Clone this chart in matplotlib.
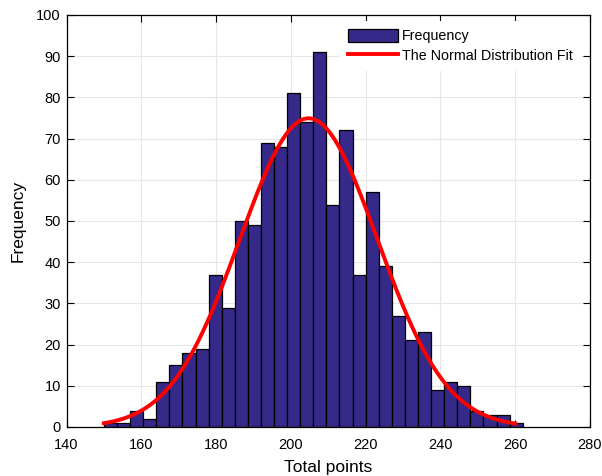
import numpy as np
import matplotlib.pyplot as plt
from matplotlib.patches import Patch
from matplotlib.lines import Line2D

# histogram of total points, 32 bins of width 3.5 from 150 to 262
bin_start = 150.0
bin_width = 3.5
counts = [1, 1, 4, 2, 11, 15, 18, 19, 37, 29, 50, 49, 69, 68, 81, 74,
          91, 54, 72, 37, 57, 39, 27, 21, 23, 9, 11, 10, 4, 3, 3, 1]
x_ticks = [140, 160, 180, 200, 220, 240, 260, 280]
y_ticks = [0, 10, 20, 30, 40, 50, 60, 70, 80, 90, 100]
fit_range = [150, 260]

plt.rcParams['font.family'] = ['Liberation Sans', 'DejaVu Sans']

counts = np.array(counts)
edges = bin_start + bin_width * np.arange(len(counts) + 1)
centers = (edges[:-1] + edges[1:]) / 2

# normal fit from the binned data
n = counts.sum()
mu = np.sum(counts * centers) / n
sigma = np.sqrt(np.sum(counts * (centers - mu) ** 2) / n)
xs = np.linspace(fit_range[0], fit_range[1], 300)
ys = n * bin_width * np.exp(-0.5 * ((xs - mu) / sigma) ** 2) / (sigma * np.sqrt(2 * np.pi))

fig = plt.figure(figsize=(6.02, 4.76), dpi=100)
ax = fig.add_axes([66.5 / 602, 1 - 427 / 476, 523.5 / 602, 412 / 476])

bar_color = '#35298a'
ax.bar(edges[:-1], counts, width=bin_width, align='edge', color=bar_color,
       edgecolor='black', linewidth=0.9, zorder=2)
ax.plot(xs, ys, color='red', linewidth=2.8, zorder=3)

ax.set_xlim(140, 280)
ax.set_ylim(0, 100)
ax.set_xticks(x_ticks)
ax.set_yticks(y_ticks)
ax.grid(True, color='#e6e6e6', linewidth=0.8, zorder=0)
ax.set_axisbelow(True)
ax.tick_params(direction='in', top=True, right=True, length=5, width=0.8,
               labelsize=10.5, pad=4)
ax.tick_params(axis='x', pad=8)
for s in ax.spines.values():
    s.set_linewidth(0.9)

ax.set_xlabel('Total points', fontsize=12.5, labelpad=6)
ax.set_ylabel('Frequency', fontsize=12.5, labelpad=8)

handles = [Patch(facecolor=bar_color, edgecolor='black', linewidth=0.9),
           Line2D([0], [0], color='red', linewidth=2.8)]
leg = ax.legend(handles, ['Frequency', 'The Normal Distribution Fit'],
                loc='upper left',
                bbox_to_anchor=((340 - 66.5) / 523.5, 1 - 6 / 412),
                fontsize=10.3, frameon=True, fancybox=False,
                edgecolor='white', framealpha=1, handlelength=3.5,
                handleheight=1.05, handletextpad=0.3, borderaxespad=0,
                borderpad=0.55, labelspacing=0.35)
leg.get_frame().set_linewidth(0)

fig.savefig('out.png', dpi=100)
